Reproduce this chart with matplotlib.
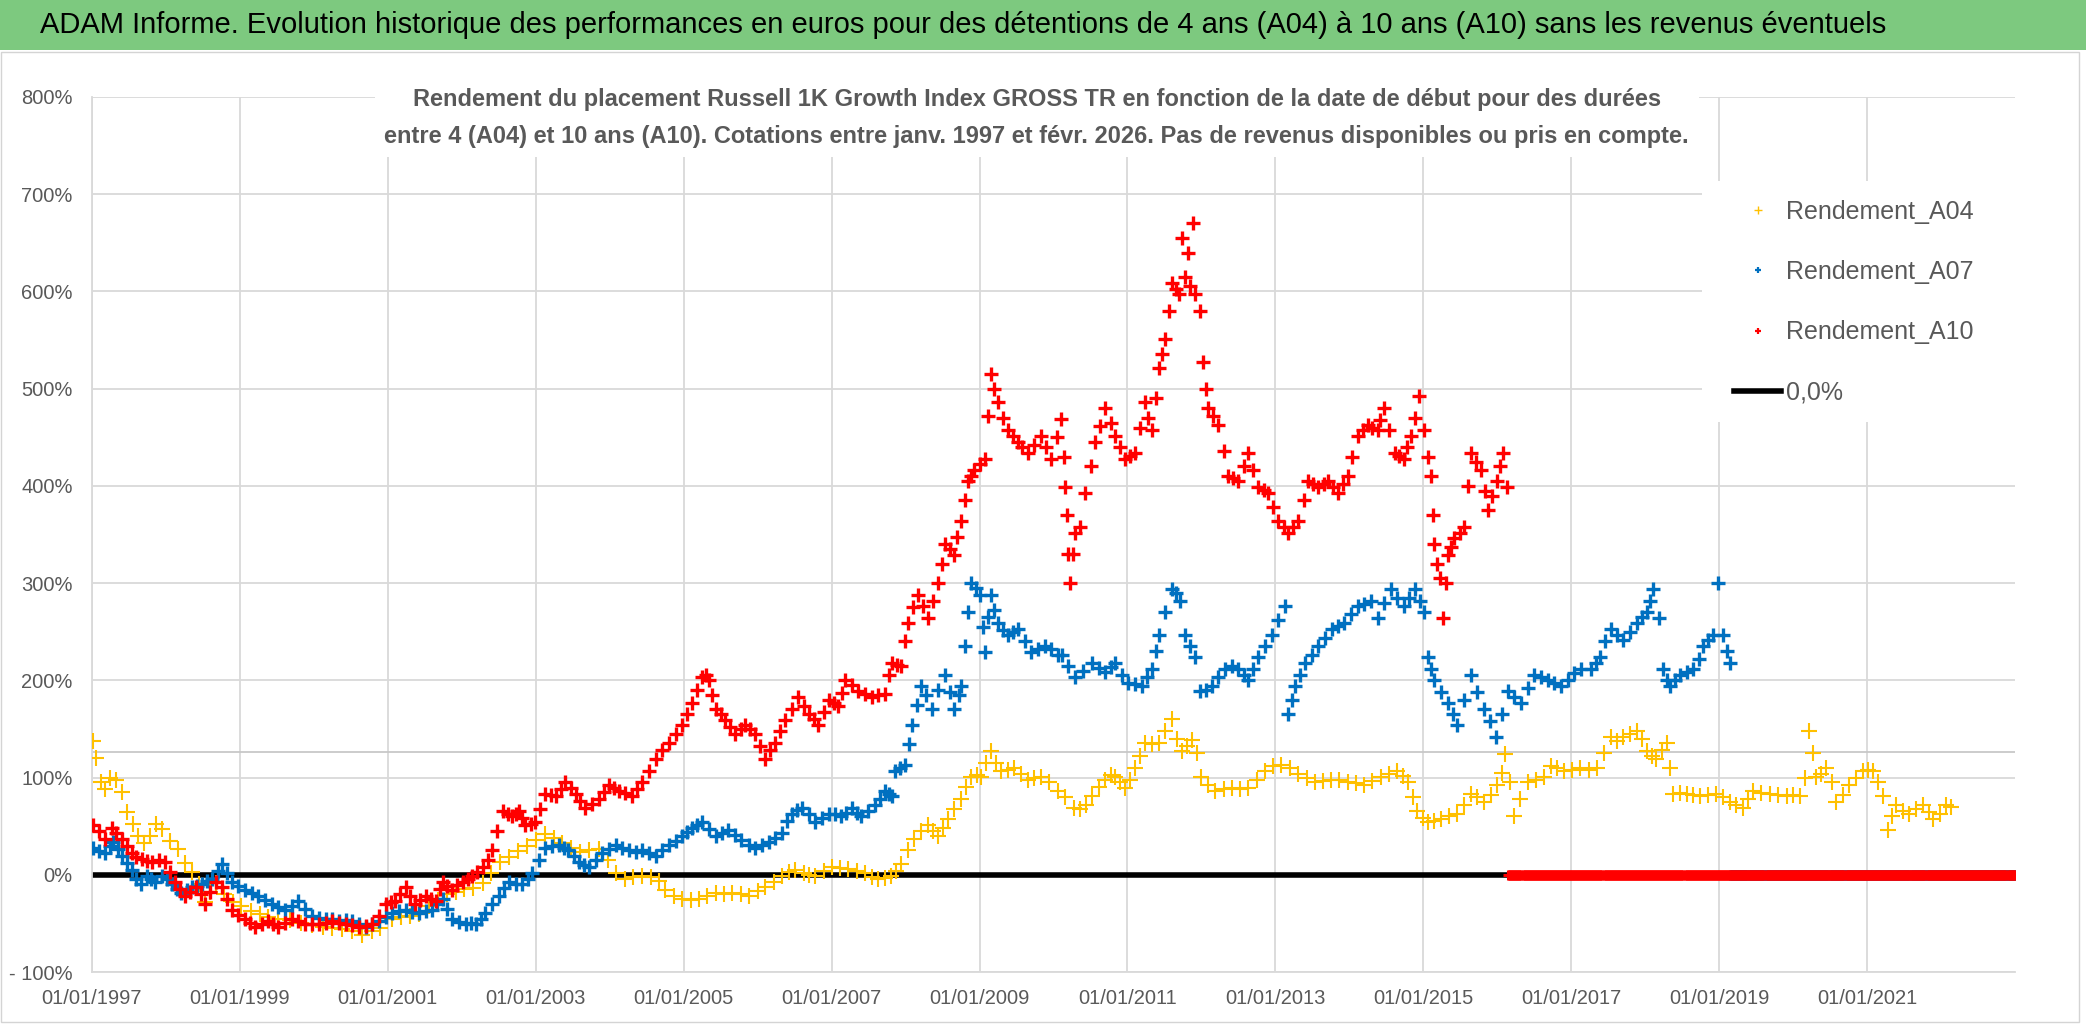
import numpy as np
import pandas as pd
import matplotlib
matplotlib.use('Agg')
import matplotlib.pyplot as plt
import matplotlib.dates as mdates
from matplotlib.patches import Rectangle
from matplotlib.lines import Line2D
from matplotlib.ticker import FuncFormatter, MultipleLocator

plt.rcParams['font.family'] = ['Liberation Sans', 'DejaVu Sans']

TITLE = ("ADAM Informe. Evolution historique des performances en euros pour des "
         "détentions de 4 ans (A04) à 10 ans (A10) sans les revenus éventuels")
SUBTITLE = ("Rendement du placement Russell 1K Growth Index GROSS TR en fonction de la date de début pour des durées\n"
            "entre 4 (A04) et 10 ans (A10). Cotations entre janv. 1997 et févr. 2026. "
            "Pas de revenus disponibles ou pris en compte.")

# start date (decimal year) / return in %
a04_year = [1997.02, 1997.06, 1997.12, 1997.18, 1997.24, 1997.32, 1997.40, 1997.47, 1997.55, 1997.62,
            1997.70, 1997.78, 1997.87, 1997.95, 1998.05, 1998.16, 1998.26, 1998.35, 1998.45, 1998.53,
            1998.60, 1998.68, 1998.78, 1998.90, 1999.02, 1999.15, 1999.27, 1999.38, 1999.52, 1999.68,
            1999.82, 1999.98, 2000.12, 2000.25, 2000.38, 2000.52, 2000.65, 2000.78, 2000.90, 2001.05,
            2001.18, 2001.30, 2001.42, 2001.55, 2001.68, 2001.80, 2001.92, 2002.03, 2002.15, 2002.28,
            2002.40, 2002.52, 2002.64, 2002.76, 2002.88, 2003.00, 2003.12, 2003.24, 2003.36, 2003.48,
            2003.60, 2003.72, 2003.85, 2003.97, 2004.08, 2004.20, 2004.32, 2004.44, 2004.56, 2004.66,
            2004.75, 2004.87, 2004.98, 2005.10, 2005.20, 2005.32, 2005.43, 2005.55, 2005.65, 2005.77,
            2005.88, 2006.00, 2006.10, 2006.22, 2006.33, 2006.42, 2006.50, 2006.62, 2006.70, 2006.78,
            2006.90, 2007.00, 2007.11, 2007.22, 2007.34, 2007.45, 2007.55, 2007.63, 2007.72, 2007.80,
            2007.87, 2007.94, 2008.03, 2008.12, 2008.21, 2008.30, 2008.37, 2008.44, 2008.50, 2008.57,
            2008.66, 2008.75, 2008.82, 2008.89, 2008.96, 2009.02, 2009.09, 2009.16, 2009.22, 2009.29,
            2009.38, 2009.47, 2009.56, 2009.65, 2009.74, 2009.83, 2009.94, 2010.06, 2010.16, 2010.28,
            2010.36, 2010.44, 2010.52, 2010.61, 2010.70, 2010.77, 2010.83, 2010.90, 2010.97, 2011.04,
            2011.10, 2011.17, 2011.24, 2011.33, 2011.42, 2011.51, 2011.60, 2011.67, 2011.73, 2011.80,
            2011.87, 2011.94, 2012.00, 2012.09, 2012.18, 2012.30, 2012.41, 2012.52, 2012.63, 2012.75,
            2012.86, 2012.97, 2013.08, 2013.19, 2013.30, 2013.42, 2013.53, 2013.64, 2013.75, 2013.86,
            2013.98, 2014.09, 2014.20, 2014.31, 2014.43, 2014.54, 2014.65, 2014.72, 2014.79, 2014.86,
            2014.92, 2015.00, 2015.06, 2015.15, 2015.24, 2015.35, 2015.46, 2015.55, 2015.64, 2015.73,
            2015.82, 2015.91, 2016.00, 2016.06, 2016.11, 2016.17, 2016.23, 2016.30, 2016.41, 2016.52,
            2016.63, 2016.72, 2016.81, 2016.90, 2017.01, 2017.12, 2017.24, 2017.35, 2017.44, 2017.53,
            2017.62, 2017.70, 2017.80, 2017.89, 2017.96, 2018.02, 2018.09, 2018.15, 2018.22, 2018.29,
            2018.34, 2018.38, 2018.47, 2018.56, 2018.65, 2018.74, 2018.85, 2018.96, 2019.05, 2019.14,
            2019.23, 2019.32, 2019.39, 2019.46, 2019.57, 2019.68, 2019.80, 2019.91, 2020.00, 2020.09,
            2020.16, 2020.22, 2020.27, 2020.31, 2020.38, 2020.45, 2020.52, 2020.58, 2020.67, 2020.76,
            2020.85, 2020.94, 2021.01, 2021.08, 2021.15, 2021.21, 2021.28, 2021.34, 2021.39, 2021.48,
            2021.57, 2021.66, 2021.76, 2021.83, 2021.89, 2021.98, 2022.07, 2022.13]
a04_val = [138, 120, 95, 88, 100, 98, 85, 65, 52, 40,
           33, 40, 52, 47, 35, 26, 12, 3, -10, -28,
           -18, -8, -20, -28, -32, -37, -40, -43, -45, -47,
           -50, -52, -54, -55, -56, -58, -62, -58, -55, -46,
           -43, -42, -40, -32, -26, -20, -18, -15, -14, -8,
           2, 13, 18, 24, 30, 36, 42, 38, 33, 28,
           23, 25, 26, 15, 2, -4, -2, -1, -2, -6,
           -16, -22, -25, -26, -25, -22, -19, -20, -19, -20,
           -22, -17, -13, -7, -1, 3, 5, 2, 0, -1,
           4, 8, 7, 6, 4, 2, -2, -4, -3, -1,
           4, 11, 25, 37, 45, 51, 45, 40, 48, 57,
           68, 78, 90, 101, 103, 101, 115, 127, 115, 107,
           108, 110, 104, 98, 100, 101, 95, 86, 80, 69,
           68, 72, 81, 90, 98, 103, 101, 95, 89, 98,
           110, 122, 136, 135, 136, 148, 160, 140, 127, 132,
           139, 125, 101, 92, 86, 88, 89, 88, 89, 97,
           107, 112, 113, 110, 104, 100, 95, 96, 98, 97,
           95, 94, 92, 96, 101, 104, 107, 102, 95, 80,
           66, 58, 54, 55, 57, 60, 63, 72, 83, 80,
           75, 82, 92, 105, 124, 95, 60, 78, 95, 98,
           101, 112, 110, 107, 108, 110, 108, 110, 125, 142,
           138, 142, 145, 148, 140, 127, 122, 119, 128, 136,
           110, 83, 84, 83, 82, 81, 82, 83, 80, 75,
           72, 69, 78, 86, 84, 83, 82, 81, 82, 81,
           100, 148, 125, 101, 104, 110, 95, 75, 82, 92,
           100, 107, 108, 107, 95, 81, 46, 60, 72, 66,
           63, 68, 72, 65, 57, 62, 72, 70]

a07_year = [1997.02, 1997.10, 1997.18, 1997.24, 1997.29, 1997.35, 1997.40, 1997.47, 1997.54, 1997.60,
            1997.66, 1997.74, 1997.80, 1997.85, 1997.94, 1998.01, 1998.08, 1998.15, 1998.21, 1998.28,
            1998.35, 1998.42, 1998.49, 1998.55, 1998.62, 1998.70, 1998.76, 1998.82, 1998.89, 1998.98,
            1999.07, 1999.16, 1999.25, 1999.34, 1999.43, 1999.52, 1999.61, 1999.70, 1999.79, 1999.88,
            1999.98, 2000.07, 2000.16, 2000.25, 2000.34, 2000.43, 2000.52, 2000.61, 2000.70, 2000.79,
            2000.88, 2000.97, 2001.06, 2001.15, 2001.24, 2001.33, 2001.42, 2001.51, 2001.60, 2001.67,
            2001.74, 2001.80, 2001.87, 2001.96, 2002.05, 2002.12, 2002.19, 2002.26, 2002.32, 2002.41,
            2002.50, 2002.57, 2002.64, 2002.73, 2002.82, 2002.89, 2002.95, 2003.04, 2003.13, 2003.22,
            2003.31, 2003.38, 2003.44, 2003.51, 2003.58, 2003.65, 2003.72, 2003.81, 2003.90, 2003.99,
            2004.08, 2004.17, 2004.26, 2004.35, 2004.44, 2004.53, 2004.62, 2004.71, 2004.80, 2004.89,
            2004.98, 2005.05, 2005.11, 2005.18, 2005.25, 2005.34, 2005.43, 2005.52, 2005.60, 2005.70,
            2005.78, 2005.88, 2005.97, 2006.06, 2006.15, 2006.24, 2006.33, 2006.40, 2006.46, 2006.53,
            2006.60, 2006.69, 2006.78, 2006.87, 2006.96, 2007.05, 2007.13, 2007.20, 2007.27, 2007.34,
            2007.40, 2007.49, 2007.58, 2007.65, 2007.72, 2007.78, 2007.81, 2007.85, 2007.92, 2007.99,
            2008.04, 2008.08, 2008.15, 2008.21, 2008.28, 2008.35, 2008.44, 2008.53, 2008.60, 2008.66,
            2008.72, 2008.75, 2008.80, 2008.85, 2008.89, 2008.95, 2009.00, 2009.04, 2009.07, 2009.12,
            2009.16, 2009.20, 2009.25, 2009.32, 2009.38, 2009.45, 2009.52, 2009.61, 2009.70, 2009.79,
            2009.88, 2009.97, 2010.06, 2010.12, 2010.20, 2010.29, 2010.40, 2010.52, 2010.61, 2010.70,
            2010.77, 2010.83, 2010.92, 2011.01, 2011.10, 2011.19, 2011.26, 2011.33, 2011.38, 2011.42,
            2011.51, 2011.60, 2011.66, 2011.71, 2011.78, 2011.85, 2011.91, 2011.98, 2012.06, 2012.14,
            2012.23, 2012.32, 2012.41, 2012.50, 2012.57, 2012.63, 2012.70, 2012.77, 2012.86, 2012.95,
            2013.04, 2013.13, 2013.17, 2013.22, 2013.26, 2013.33, 2013.40, 2013.49, 2013.58, 2013.67,
            2013.76, 2013.85, 2013.93, 2014.02, 2014.11, 2014.20, 2014.29, 2014.38, 2014.47, 2014.56,
            2014.65, 2014.74, 2014.81, 2014.88, 2014.95, 2015.01, 2015.06, 2015.10, 2015.15, 2015.24,
            2015.33, 2015.40, 2015.46, 2015.55, 2015.64, 2015.73, 2015.82, 2015.90, 2015.98, 2016.06,
            2016.14, 2016.23, 2016.32, 2016.41, 2016.50, 2016.59, 2016.68, 2016.77, 2016.86, 2016.95,
            2017.04, 2017.13, 2017.26, 2017.33, 2017.39, 2017.46, 2017.53, 2017.62, 2017.70, 2017.80,
            2017.89, 2017.96, 2018.02, 2018.07, 2018.11, 2018.18, 2018.24, 2018.29, 2018.33, 2018.40,
            2018.47, 2018.56, 2018.65, 2018.72, 2018.78, 2018.85, 2018.92, 2018.99, 2019.05, 2019.10,
            2019.14]
a07_val = [28, 24, 22, 30, 34, 27, 19, 12, 5, -4,
           -10, -1, -4, -7, -1, -4, -10, -15, -19, -16,
           -13, -12, -10, -6, -4, 4, 11, 2, -7, -12,
           -16, -19, -22, -26, -30, -33, -36, -32, -27, -35,
           -42, -44, -45, -46, -48, -47, -48, -51, -54, -51,
           -48, -43, -39, -37, -36, -38, -39, -37, -36, -30,
           -25, -35, -45, -49, -51, -50, -51, -45, -39, -30,
           -22, -14, -7, -9, -10, -4, 2, 15, 28, 30,
           31, 28, 25, 19, 13, 10, 8, 15, 22, 27,
           31, 28, 25, 23, 25, 22, 19, 25, 31, 35,
           40, 44, 48, 51, 54, 47, 40, 43, 46, 41,
           36, 31, 28, 31, 34, 38, 43, 55, 63, 67,
           69, 62, 54, 58, 63, 62, 60, 64, 69, 64,
           60, 66, 72, 78, 86, 83, 81, 107, 110, 113,
           135, 154, 175, 194, 185, 171, 190, 206, 188, 171,
           185, 194, 235, 270, 300, 295, 288, 255, 229, 265,
           288, 272, 259, 252, 247, 250, 253, 240, 229, 232,
           235, 232, 226, 226, 215, 203, 210, 218, 213, 209,
           214, 218, 205, 197, 196, 194, 203, 212, 230, 247,
           270, 294, 290, 282, 247, 235, 224, 189, 190, 194,
           203, 212, 215, 212, 205, 200, 212, 224, 235, 247,
           262, 276, 165, 180, 194, 206, 218, 226, 235, 244,
           253, 256, 259, 268, 276, 279, 282, 264, 280, 294,
           285, 276, 285, 294, 282, 270, 224, 212, 200, 188,
           177, 165, 154, 180, 206, 188, 171, 158, 142, 165,
           189, 183, 177, 192, 206, 203, 200, 197, 194, 200,
           208, 212, 212, 218, 224, 240, 253, 247, 241, 250,
           259, 265, 270, 282, 294, 264, 212, 200, 194, 200,
           206, 209, 212, 222, 235, 241, 247, 300, 247, 230,
           218]

a10_year = [1997.02, 1997.10, 1997.18, 1997.27, 1997.33, 1997.40, 1997.47, 1997.54, 1997.60, 1997.67,
            1997.74, 1997.81, 1997.90, 1997.99, 1998.06, 1998.12, 1998.19, 1998.26, 1998.33, 1998.40,
            1998.47, 1998.53, 1998.60, 1998.67, 1998.76, 1998.82, 1998.89, 1998.98, 1999.07, 1999.14,
            1999.21, 1999.30, 1999.38, 1999.45, 1999.52, 1999.61, 1999.70, 1999.79, 1999.88, 1999.98,
            2000.07, 2000.16, 2000.25, 2000.34, 2000.43, 2000.52, 2000.61, 2000.70, 2000.79, 2000.88,
            2000.97, 2001.04, 2001.10, 2001.17, 2001.24, 2001.30, 2001.37, 2001.44, 2001.51, 2001.58,
            2001.65, 2001.70, 2001.74, 2001.80, 2001.87, 2001.94, 2002.01, 2002.08, 2002.14, 2002.21,
            2002.28, 2002.35, 2002.41, 2002.48, 2002.55, 2002.62, 2002.68, 2002.73, 2002.77, 2002.82,
            2002.86, 2002.93, 2002.99, 2003.06, 2003.13, 2003.20, 2003.27, 2003.34, 2003.40, 2003.47,
            2003.54, 2003.60, 2003.67, 2003.76, 2003.85, 2003.92, 2003.99, 2004.06, 2004.12, 2004.21,
            2004.30, 2004.37, 2004.44, 2004.53, 2004.62, 2004.71, 2004.80, 2004.89, 2004.98, 2005.05,
            2005.11, 2005.18, 2005.25, 2005.30, 2005.34, 2005.38, 2005.43, 2005.50, 2005.56, 2005.63,
            2005.70, 2005.77, 2005.83, 2005.90, 2005.97, 2006.03, 2006.10, 2006.17, 2006.24, 2006.30,
            2006.37, 2006.46, 2006.55, 2006.62, 2006.69, 2006.76, 2006.82, 2006.89, 2006.96, 2007.03,
            2007.09, 2007.14, 2007.18, 2007.27, 2007.36, 2007.45, 2007.54, 2007.63, 2007.72, 2007.77,
            2007.81, 2007.88, 2007.94, 2007.99, 2008.03, 2008.10, 2008.17, 2008.24, 2008.30, 2008.37,
            2008.44, 2008.49, 2008.53, 2008.60, 2008.66, 2008.70, 2008.75, 2008.80, 2008.84, 2008.89,
            2008.93, 2009.00, 2009.07, 2009.12, 2009.16, 2009.20, 2009.25, 2009.32, 2009.38, 2009.45,
            2009.52, 2009.58, 2009.65, 2009.74, 2009.83, 2009.90, 2009.97, 2010.04, 2010.10, 2010.14,
            2010.16, 2010.18, 2010.20, 2010.22, 2010.26, 2010.29, 2010.36, 2010.43, 2010.50, 2010.56,
            2010.63, 2010.70, 2010.77, 2010.83, 2010.90, 2010.97, 2011.04, 2011.10, 2011.17, 2011.24,
            2011.28, 2011.33, 2011.38, 2011.42, 2011.47, 2011.51, 2011.56, 2011.60, 2011.65, 2011.69,
            2011.74, 2011.78, 2011.82, 2011.85, 2011.88, 2011.91, 2011.98, 2012.02, 2012.06, 2012.09,
            2012.16, 2012.23, 2012.30, 2012.36, 2012.43, 2012.50, 2012.57, 2012.63, 2012.70, 2012.77,
            2012.84, 2012.90, 2012.97, 2013.04, 2013.11, 2013.17, 2013.24, 2013.31, 2013.38, 2013.44,
            2013.51, 2013.58, 2013.65, 2013.71, 2013.78, 2013.84, 2013.91, 2013.98, 2014.04, 2014.11,
            2014.18, 2014.25, 2014.31, 2014.38, 2014.42, 2014.47, 2014.54, 2014.61, 2014.67, 2014.74,
            2014.78, 2014.83, 2014.89, 2014.94, 2015.01, 2015.06, 2015.10, 2015.13, 2015.15, 2015.19,
            2015.22, 2015.26, 2015.30, 2015.33, 2015.38, 2015.42, 2015.49, 2015.55, 2015.60, 2015.64,
            2015.71, 2015.78, 2015.83, 2015.87, 2015.93, 2015.99, 2016.04, 2016.08, 2016.13]
a10_val = [51, 45, 37, 48, 43, 37, 30, 22, 18, 16,
           14, 13, 15, 13, 3, -7, -15, -22, -18, -13,
           -20, -30, -18, -7, -13, -25, -36, -41, -45, -50,
           -54, -51, -48, -51, -54, -50, -45, -48, -51, -51,
           -51, -50, -48, -50, -51, -52, -54, -53, -51, -42,
           -30, -28, -27, -20, -13, -22, -30, -26, -22, -25,
           -27, -15, -7, -12, -16, -11, -7, -4, -1, 3,
           8, 15, 25, 45, 66, 63, 60, 63, 66, 58,
           51, 52, 54, 68, 83, 82, 81, 88, 95, 89,
           83, 76, 69, 73, 78, 85, 92, 89, 86, 84,
           81, 88, 95, 107, 119, 128, 136, 145, 154, 165,
           177, 190, 203, 205, 200, 185, 171, 165, 159, 152,
           145, 150, 154, 150, 145, 132, 119, 128, 136, 148,
           159, 171, 183, 174, 165, 160, 154, 167, 180, 177,
           174, 187, 200, 195, 189, 186, 183, 185, 186, 205,
           218, 216, 215, 240, 259, 275, 288, 276, 264, 282,
           300, 320, 340, 335, 329, 347, 364, 385, 405, 410,
           416, 422, 428, 472, 515, 500, 486, 470, 457, 451,
           445, 440, 434, 442, 451, 440, 428, 450, 469, 430,
           399, 370, 330, 300, 330, 352, 358, 393, 420, 445,
           462, 480, 465, 451, 440, 428, 431, 434, 460, 486,
           470, 457, 490, 521, 536, 551, 580, 609, 603, 597,
           655, 615, 640, 606, 670, 597, 580, 527, 500, 480,
           472, 463, 436, 410, 408, 405, 420, 434, 416, 399,
           396, 393, 378, 364, 358, 352, 358, 364, 385, 405,
           402, 399, 402, 405, 399, 393, 402, 410, 430, 451,
           457, 463, 460, 457, 468, 480, 457, 434, 431, 428,
           440, 451, 470, 492, 457, 430, 410, 370, 340, 320,
           305, 264, 300, 329, 337, 346, 352, 358, 400, 434,
           425, 416, 395, 375, 390, 405, 420, 434, 399]

# after the last computable start date the sheet holds 0 for each series
A04_LAST = '2022-02-20'
A07_LAST = '2019-02-25'
A10_LAST = '2016-02-25'
AXIS_END = '2023-01-01'

COL_A04 = '#FFC000'
COL_A07 = '#0070C0'
COL_A10 = '#FF0000'
GRID = '#D9D9D9'
TXT = '#595959'


def to_dates(years):
    years = np.asarray(years, dtype=float)
    return pd.Timestamp('1997-01-01') + pd.to_timedelta((years - 1997.0) * 365.25, unit='D')


def zero_tail(last):
    tail = pd.date_range(last, AXIS_END, freq='5D')
    return tail, np.zeros(len(tail))


W, H = 2086, 1031
fig = plt.figure(figsize=(W / 100, H / 100), dpi=100)

# green title banner + light chart frame
fig.patches.append(Rectangle((0, 1 - 50 / H), 1, 50 / H, transform=fig.transFigure,
                             facecolor='#7DC97F', edgecolor='none', zorder=0))
fig.patches.append(Rectangle((0.5 / W, 1 - 1022 / H), 2078 / W, (1022 - 52) / H,
                             transform=fig.transFigure, fill=False,
                             edgecolor='#D4D4D4', linewidth=1.0, zorder=0))
fig.text(40 / W, 1 - 25 / H, TITLE, fontsize=21, color='black', ha='left', va='center')

ax = fig.add_axes([92 / W, 1 - 972 / H, (2015 - 92) / W, (972 - 97) / H])

ax.axhline(0, color='black', linewidth=4, zorder=2)
ax.axhline(126, color='#C8C8C8', linewidth=1.3, zorder=1)

series = [(a04_year, a04_val, A04_LAST, COL_A04, 12, 1.5, 3),
          (a07_year, a07_val, A07_LAST, COL_A07, 10.5, 2.4, 4),
          (a10_year, a10_val, A10_LAST, COL_A10, 10.5, 2.4, 5)]
for yrs, vals, last, col, ms, mew, z in series:
    ax.plot(to_dates(yrs), vals, linestyle='none', marker='+', ms=ms, mew=mew, color=col, zorder=z)
    td, tv = zero_tail(last)
    ax.plot(td, tv, linestyle='none', marker='+', ms=7, mew=2.2, color=col, zorder=z)

ax.set_ylim(-100, 800)
ax.yaxis.set_major_locator(MultipleLocator(100))
ax.yaxis.set_major_formatter(FuncFormatter(
    lambda v, p: f'- {abs(v):.0f}%' if v < 0 else f'{v:.0f}%'))

ax.set_xlim(pd.Timestamp('1997-01-01'), pd.Timestamp(AXIS_END))
ax.set_xticks(pd.date_range('1997-01-01', '2021-01-01', freq='2YS'))
ax.xaxis.set_major_formatter(mdates.DateFormatter('%d/%m/%Y'))

ax.grid(True, color=GRID, linewidth=1.3, zorder=0)
ax.set_axisbelow(True)
for s in ['top', 'right']:
    ax.spines[s].set_visible(False)
for s in ['left', 'bottom']:
    ax.spines[s].set_color(GRID)
    ax.spines[s].set_linewidth(1.3)
ax.tick_params(axis='both', length=0, colors=TXT, labelsize=14.5)
ax.tick_params(axis='x', pad=12)
ax.tick_params(axis='y', pad=14)

# subtitle box (white, hides the grid behind it)
fig.text(0.497, 1 - 118 / H, SUBTITLE, fontsize=17, color=TXT, ha='center', va='center',
         linespacing=1.75, fontweight='bold',
         bbox=dict(facecolor='white', edgecolor='none', pad=7), zorder=10)

# white legend area covering the grid up to the plot's right edge
fig.patches.append(Rectangle((1702 / W, 1 - 422 / H), (2015 - 1702) / W, (422 - 181) / H,
                             transform=fig.transFigure, facecolor='white',
                             edgecolor='none', zorder=4))
handles = [
    Line2D([], [], linestyle='none', marker='+', ms=6, mew=1.0, color=COL_A04),
    Line2D([], [], linestyle='none', marker='+', ms=5, mew=1.6, color=COL_A07),
    Line2D([], [], linestyle='none', marker='+', ms=5, mew=1.6, color=COL_A10),
    Line2D([], [], color='black', linewidth=4),
]
labels = ['Rendement_A04', 'Rendement_A07', 'Rendement_A10', '0,0%']
leg = fig.legend(handles, labels, loc='upper left', bbox_to_anchor=(1715 / W, 1 - 181 / H),
                 bbox_transform=fig.transFigure, frameon=False, fontsize=18,
                 handlelength=1.9, handletextpad=0.2, labelspacing=1.45, borderpad=0.75,
                 borderaxespad=0)
for t in leg.get_texts():
    t.set_color(TXT)

fig.savefig('out.png', dpi=100)
